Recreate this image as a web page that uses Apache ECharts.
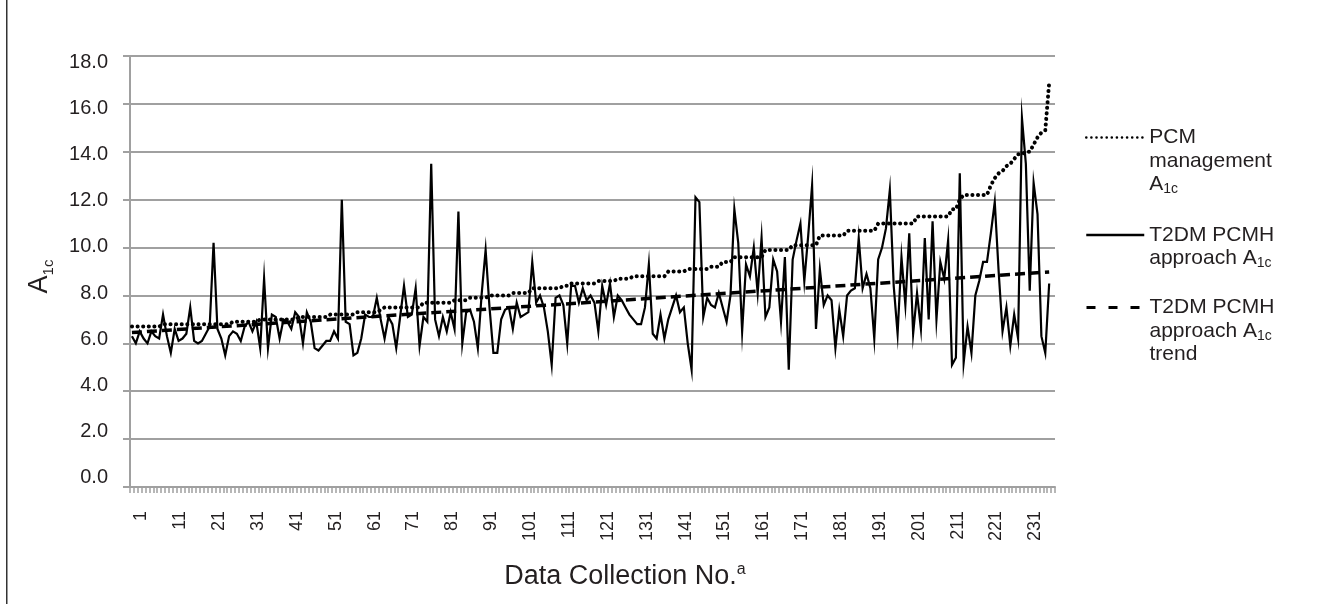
<!DOCTYPE html>
<html><head><meta charset="utf-8">
<script src="https://cdn.jsdelivr.net/npm/echarts@6/dist/echarts.min.js"></script>
<style>html,body{margin:0;padding:0;background:#fff}#c{width:1317px;height:604px}</style>
</head><body><div id="c"></div>
<script>
// Category axis: data collection numbers (one empty slot at the end, as in the reference)
const categories = Array.from({length: 238}, (_, k) => String(k + 1));
const yTicks = [0, 18, 2];

// PCM management A1c (sorted ascending)
const pcm = [
6.7,6.7,6.7,6.7,6.7,6.7,6.7,6.7,
6.8,6.8,6.8,6.8,6.8,6.8,6.8,6.8,6.8,6.8,6.8,6.8,6.8,6.8,6.8,6.8,6.8,6.8,
6.9,6.9,6.9,6.9,6.9,6.9,6.9,
7.0,7.0,7.0,7.0,7.0,7.0,7.0,7.0,7.0,7.0,
7.1,7.1,7.1,7.1,7.1,7.1,7.1,7.1,
7.2,7.2,7.2,7.2,7.2,7.2,7.2,
7.3,7.3,7.3,7.3,7.3,7.3,
7.4,
7.5,7.5,7.5,7.5,7.5,7.5,7.5,7.5,7.5,7.5,
7.7,7.7,7.7,7.7,7.7,7.7,7.7,7.7,
7.8,7.8,7.8,7.8,
7.9,7.9,7.9,7.9,7.9,
8.0,8.0,8.0,8.0,8.0,8.0,
8.1,8.1,8.1,8.1,8.1,
8.3,8.3,8.3,8.3,8.3,8.3,8.3,8.3,
8.4,8.4,
8.5,8.5,8.5,8.5,8.5,8.5,8.5,
8.6,8.6,8.6,8.6,8.6,
8.7,8.7,8.7,8.7,
8.8,8.8,8.8,8.8,8.8,8.8,8.8,8.8,8.8,
9.0,9.0,9.0,9.0,9.0,
9.1,9.1,9.1,9.1,9.1,9.1,
9.2,9.2,9.2,
9.4,9.4,9.4,
9.6,9.6,9.6,9.6,9.6,9.6,9.6,9.6,
9.9,9.9,9.9,9.9,9.9,9.9,9.9,
10.1,10.1,10.1,10.1,10.1,10.1,10.1,
10.5,10.5,10.5,10.5,10.5,10.5,10.5,
10.7,10.7,10.7,10.7,10.7,10.7,10.7,10.7,
11.0,11.0,11.0,11.0,11.0,11.0,11.0,11.0,11.0,11.0,
11.3,11.3,11.3,11.3,11.3,11.3,11.3,11.3,11.3,
11.6,11.6,
12.0,
12.2,12.2,12.2,12.2,12.2,12.2,12.2,
12.6,12.9,13.1,13.2,13.4,13.5,13.7,13.9,13.9,14.0,14.0,14.3,14.6,14.8,14.9,16.9
];

// T2DM PCMH approach A1c
const t2dm = [
6.3,6.0,6.5,6.2,6.0,6.5,6.3,6.2,7.2,6.3,
5.6,6.6,6.1,6.2,6.4,7.5,6.1,6.0,6.1,6.4,
6.7,10.2,6.6,6.2,5.5,6.3,6.5,6.4,6.1,6.7,
6.9,6.5,6.9,5.8,8.7,5.8,7.2,7.1,6.2,7.0,
6.9,6.6,7.3,7.1,6.0,7.3,6.9,5.8,5.7,5.9,
6.1,6.1,6.5,6.2,12.0,6.9,6.8,5.5,5.6,6.2,
7.2,7.1,7.1,7.9,7.0,6.2,7.1,6.8,5.8,7.1,
8.4,7.1,7.2,8.3,5.9,7.1,6.9,13.5,7.0,6.3,
7.1,6.5,7.3,6.6,11.5,6.0,7.3,7.4,6.9,5.8,
8.1,9.9,7.5,5.6,5.6,7.0,7.4,7.5,6.6,7.7,
7.1,7.2,7.3,9.4,7.7,8.0,7.5,6.5,5.1,7.9,
8.0,7.6,6.0,8.4,8.4,7.7,8.3,7.8,8.0,7.7,
6.5,8.4,7.6,8.5,7.1,8.0,7.8,7.5,7.2,7.0,
6.8,6.8,7.5,9.3,6.4,6.2,7.2,6.2,7.0,7.5,
8.0,7.3,7.5,6.0,4.9,12.1,11.9,7.1,7.9,7.6,
7.5,8.1,7.5,6.9,8.0,11.6,10.2,6.5,9.3,8.8,
10.0,8.1,10.4,7.1,7.5,9.5,9.0,6.9,9.6,4.9,
9.5,10.3,11.0,8.6,10.5,12.6,6.6,9.1,7.6,8.0,
7.8,5.8,7.4,6.3,8.0,8.2,8.3,10.4,8.3,8.9,
8.3,6.2,9.5,10.0,10.8,12.4,8.4,6.4,9.6,7.6,
10.6,6.4,8.1,6.6,10.4,7.0,11.1,7.0,9.4,8.7,
10.3,5.1,5.4,13.1,5.2,6.7,5.6,8.0,8.6,9.4,
9.4,10.6,11.9,9.0,6.5,7.5,5.9,7.2,6.2,15.4,
13.5,8.2,12.7,11.4,6.3,5.6,8.5
];

// Linear trend of the T2DM PCMH series: end points
const trendAt = ['1', '237'];
const trendVal = [6.45, 8.98];

const TXT = '#231f20';
const GRAY = '#a0a0a0';
const FONT = 'Liberation Sans, Arial, Helvetica, sans-serif';

const names = ['PCM management A1c', 'T2DM PCMH approach A1c', 'T2DM PCMH approach A1c trend'];
const legendText = {
  'PCM management A1c': '{e| }\n{e| }\n{t|PCM}\n{t|management}\n{t|A}{s|1c}',
  'T2DM PCMH approach A1c': '{e| }\n{t|T2DM PCMH}\n{t|approach A}{s|1c}',
  'T2DM PCMH approach A1c trend': '{e| }\n{e| }\n{t|T2DM PCMH}\n{t|approach A}{s|1c}\n{t|trend}'
};
const LH = 23.5;
const legRich = {
  e: {fontSize: 21, lineHeight: LH, fontFamily: FONT, color: TXT},
  t: {fontSize: 21, lineHeight: LH, fontFamily: FONT, color: TXT},
  s: {fontSize: 14, lineHeight: 9, fontFamily: FONT, color: TXT, verticalAlign: 'bottom'}
};
function mkLegend(name, top, ls) {
  return {
    data: [name], left: 1080, top: top, orient: 'vertical',
    itemWidth: 58, itemHeight: 14, padding: 5,
    formatter: n => legendText[n],
    textStyle: {rich: legRich, fontFamily: FONT, color: TXT},
    lineStyle: ls,
    itemStyle: {opacity: 0, color: 'transparent', borderColor: 'transparent', borderWidth: 0},
    selectedMode: false
  };
}

const chart = echarts.init(document.getElementById('c'), null, {renderer: 'canvas'});
chart.setOption({
  animation: false,
  backgroundColor: '#fff',
  textStyle: {fontFamily: FONT, color: TXT},
  grid: [
    {left: 130, right: 262, top: 56, bottom: 117, outerBoundsMode: 'none'},
    {left: 130, right: 262, top: 62.5, bottom: 126.5, outerBoundsMode: 'none'}
  ],
  legend: [
    mkLegend(names[0], 75, {width: 2.5, type: [0.1, 5], cap: 'round', color: '#000'}),
    mkLegend(names[1], 196, {width: 2.5, type: 'solid', color: '#000'}),
    mkLegend(names[2], 245, {width: 3, type: [9, 13], color: '#000'})
  ],
  xAxis: [
    {
      type: 'category', gridIndex: 0, data: categories, boundaryGap: true,
      axisLine: {show: true, lineStyle: {color: GRAY, width: 2}},
      axisTick: {show: true, interval: 0, length: 6, lineStyle: {color: GRAY, width: 1.5}},
      axisLabel: {interval: 9, rotate: 90, fontSize: 18, color: TXT, fontFamily: FONT,
                  margin: 24, verticalAlign: 'top', lineHeight: 19},
      splitLine: {show: false},
      name: 'Data Collection No.{sup|a}', nameLocation: 'middle', nameGap: 75,
      nameTextStyle: {fontSize: 27, color: TXT, fontFamily: FONT, lineHeight: 30,
        padding: [0, 0, 0, 65],
        rich: {sup: {fontSize: 16, lineHeight: 16, verticalAlign: 'top', color: TXT, fontFamily: FONT}}}
    },
    {type: 'category', gridIndex: 1, data: categories, show: false}
  ],
  yAxis: [
    {
      type: 'value', gridIndex: 0, min: yTicks[0], max: yTicks[1], interval: yTicks[2],
      axisLine: {show: true, lineStyle: {color: GRAY, width: 2}},
      axisTick: {show: true, length: 7, lineStyle: {color: GRAY, width: 2}},
      axisLabel: {show: false},
      splitLine: {show: true, lineStyle: {color: GRAY, width: 2}},
      name: 'A{sub|1c}', nameLocation: 'middle', nameGap: 74,
      nameTextStyle: {fontSize: 27, color: TXT, fontFamily: FONT, lineHeight: 32,
        padding: [0, 10, 0, 0],
        rich: {sub: {fontSize: 15, lineHeight: 11, verticalAlign: 'bottom', color: TXT, fontFamily: FONT}}}
    },
    {
      type: 'value', gridIndex: 1, min: yTicks[0], max: yTicks[1], interval: yTicks[2],
      axisLine: {show: false}, axisTick: {show: false}, splitLine: {show: false},
      axisLabel: {fontSize: 20, color: TXT, fontFamily: FONT, margin: 22,
                  formatter: v => v.toFixed(1)}
    }
  ],
  series: [
    {name: names[0], type: 'line', xAxisIndex: 0, yAxisIndex: 0, data: pcm, symbol: 'none',
     lineStyle: {color: '#000', width: 4, type: [0.1, 5.5], cap: 'round'}, z: 3},
    {name: names[1], type: 'line', xAxisIndex: 0, yAxisIndex: 0, data: t2dm, symbol: 'none',
     lineStyle: {color: '#000', width: 2.2, join: 'miter', miterLimit: 20}, z: 2},
    {name: names[2], type: 'line', xAxisIndex: 0, yAxisIndex: 0,
     data: trendAt.map((c, k) => [c, trendVal[k]]), symbol: 'none',
     lineStyle: {color: '#000', width: 3.5, type: [10, 5]}, z: 4}
  ],
  graphic: [
    {type: 'rect', left: 6, top: 0, shape: {width: 1.5, height: 604}, style: {fill: '#333'}, silent: true}
  ]
});
</script>
</body></html>
